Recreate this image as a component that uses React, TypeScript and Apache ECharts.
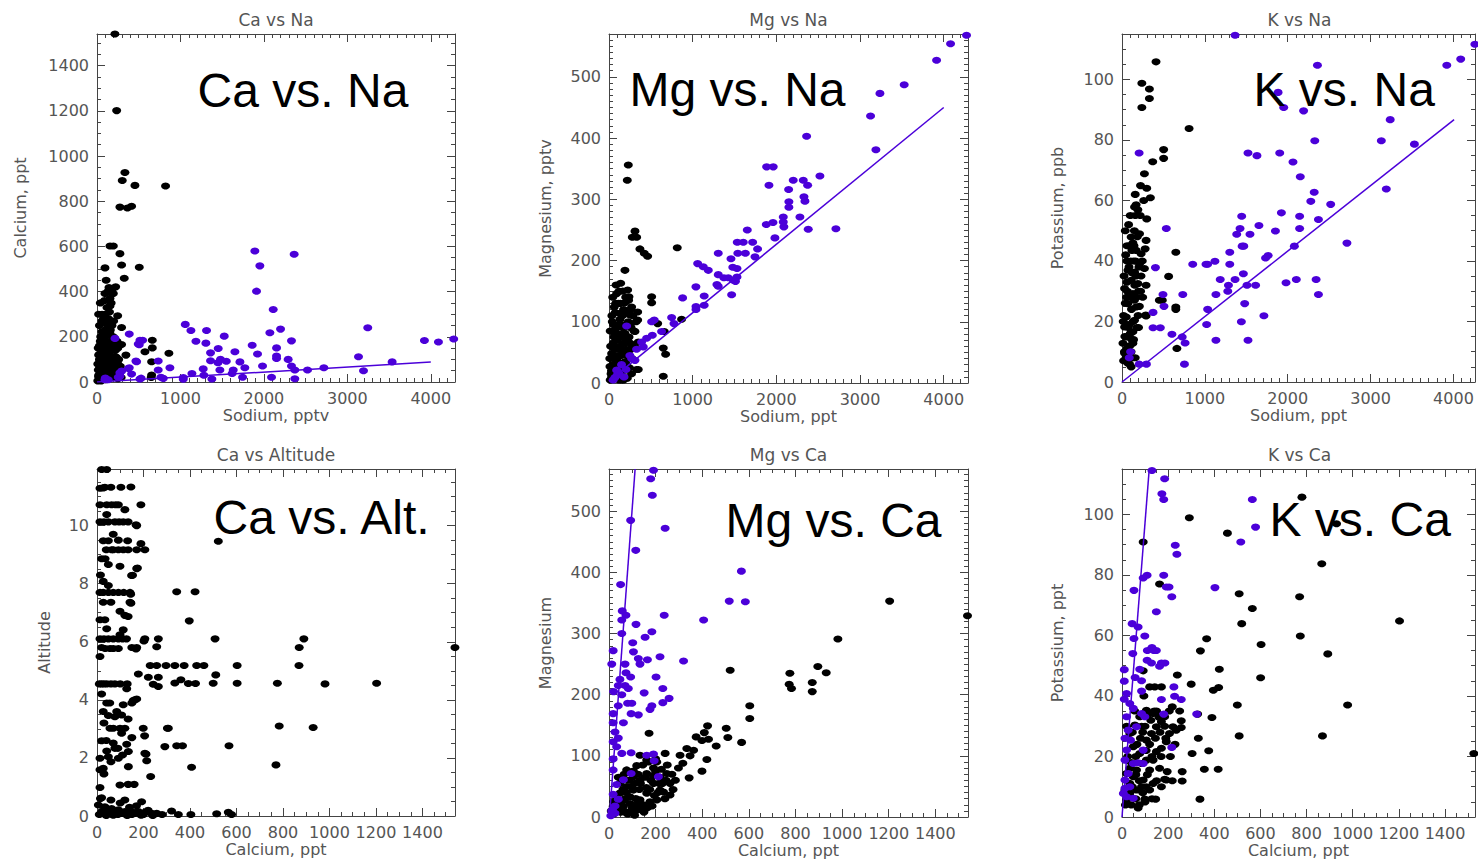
import React, { useEffect, useRef } from "react";
import * as echarts from "echarts";

// ---------- DATA ----------
// Panel 1: Ca vs Na  [Sodium pptv, Calcium ppt]
const naCaBlack: number[][] = [[215,1540],[236,1201],[335,927],[303,892],[455,870],[822,867],[275,774],[365,770],[415,778],[156,602],[196,602],[275,568],[295,518],[96,505],[507,508],[327,459],[144,418],[224,421],[96,392],[196,392],[156,370],[156,336],[150,310],[248,293],[72,262],[150,262],[295,241],[60,222],[156,215],[196,200],[60,185],[150,178],[295,166],[663,185],[575,134],[663,151],[862,127],[347,119],[56,141],[116,127],[36,97],[135,90],[216,90],[76,68],[16,53],[156,53],[255,45],[655,90],[655,31],[20,23],[76,16],[650,20],[30,250],[45,200],[100,230],[120,170],[80,150],[20,120],[60,110],[100,100],[140,120],[180,140],[200,60],[40,70],[90,40],[130,30],[170,20],[10,80],[60,30],[110,10],[150,70],[230,110],[250,80],[30,160],[190,100],[270,30],[10,5],[50,5],[100,200],[130,240],[80,280],[120,330],[60,300],[180,250],[110,450],[250,150],[230,25],[200,170],[40,40],[15,150],[90,180],[20,30],[50,60],[80,90],[110,60],[140,40],[170,80],[200,110],[230,60],[260,100],[290,20],[30,100],[70,130],[110,150],[150,160],[190,190],[220,140],[40,180],[80,210],[120,260],[160,230],[200,270],[60,270],[20,300],[100,300],[140,280],[170,350],[90,360],[130,400],[180,410],[40,350],[120,90],[160,110],[210,40],[250,15],[280,70],[70,10],[30,60],[190,30],[240,180],[100,130]];
const naCaPurple: number[][] = [[1892,580],[1952,514],[1912,402],[2363,565],[2112,321],[3245,240],[3924,184],[4092,177],[4275,190],[3134,112],[3537,89],[3194,50],[2719,63],[2523,53],[2371,53],[2371,14],[2331,71],[2291,100],[2331,182],[2200,234],[2072,218],[2152,151],[2152,115],[2152,104],[1984,71],[2092,21],[1860,163],[1924,124],[1772,63],[1713,89],[1653,134],[1633,53],[1620,38],[1745,21],[1525,203],[1480,100],[1450,85],[1550,92],[1453,148],[1473,53],[1361,129],[1361,94],[1305,172],[1313,228],[1273,58],[1281,30],[1377,13],[1186,180],[1126,228],[1058,255],[1138,38],[1034,20],[1034,12],[874,63],[766,21],[734,93],[734,53],[529,17],[467,93],[507,165],[547,185],[387,212],[216,193],[387,63],[415,35],[295,48],[255,21],[100,18],[96,10],[495,168],[515,185],[475,90],[375,60],[515,13],[275,41],[275,25],[135,10],[794,16]];
const naCaFit: number[][] = [[0,0],[4000,88]];

// Panel 2: Mg vs Na  [Sodium ppt, Magnesium pptv]
const naMgBlack: number[][] = [[231,356],[219,331],[311,248],[279,238],[331,238],[370,219],[422,212],[462,207],[816,221],[191,184],[140,163],[223,152],[92,146],[239,141],[111,130],[191,131],[271,124],[63,124],[510,141],[510,131],[343,116],[251,111],[131,114],[183,119],[131,104],[343,103],[582,97],[868,104],[661,84],[649,57],[677,47],[649,11],[350,22],[72,81],[191,81],[311,84],[350,67],[51,65],[171,65],[32,48],[152,54],[251,54],[92,38],[12,27],[131,32],[191,21],[32,10],[152,5],[331,22],[20,60],[60,40],[100,70],[140,95],[180,50],[210,30],[240,75],[270,15],[40,100],[80,130],[120,150],[160,110],[200,140],[30,20],[110,45],[150,10],[190,65],[230,100],[260,120],[300,85],[90,90],[10,40],[60,75],[130,60],[170,90],[220,8],[280,60],[120,5],[25,15],[45,30],[65,55],[85,20],[105,35],[125,80],[145,45],[165,25],[185,95],[205,55],[225,70],[245,25],[265,90],[285,110],[305,60],[15,85],[35,110],[55,95],[75,115],[95,55],[115,95],[135,130],[155,75],[175,120],[195,35],[215,115],[235,135],[255,95],[275,40],[325,100],[45,140],[85,160],[165,150],[15,5],[55,15],[95,25],[135,15],[175,5],[215,45],[255,65]];
const naMgPurple: number[][] = [[4273,568],[4082,554],[3915,527],[3528,487],[3238,473],[3126,436],[3190,381],[2362,403],[1884,353],[1963,353],[1912,323],[2202,331],[2322,331],[2374,323],[2521,338],[2147,316],[2330,304],[2342,297],[2150,296],[2150,287],[2712,252],[2381,251],[2282,271],[2083,271],[2090,255],[2083,263],[1983,237],[1880,259],[1960,262],[1653,250],[1717,230],[1776,219],[1745,206],[1605,230],[1533,230],[1540,212],[1630,212],[1306,212],[1458,203],[1480,189],[1530,187],[1060,195],[1127,190],[1187,184],[1306,177],[1373,172],[1426,172],[1486,168],[1530,173],[1512,166],[1290,161],[1306,158],[1039,157],[1138,142],[1466,144],[880,139],[1040,125],[1040,120],[1138,127],[749,107],[777,97],[541,103],[510,100],[518,78],[450,73],[390,67],[410,59],[629,84],[271,40],[311,37],[211,93],[203,22],[92,21],[100,13],[72,9],[50,5],[120,15],[150,30],[180,10],[250,45],[330,55]];
const naMgFit: number[][] = [[0,3],[4000,450]];

// Panel 3: K vs Na  [Sodium ppt, Potassium ppb]
const naKBlack: number[][] = [[411,105.8],[240,98.7],[331,96.8],[331,93.7],[240,90.7],[810,83.8],[503,76.8],[503,73.9],[371,72.8],[271,68.8],[224,64.9],[299,64.0],[343,60.9],[263,60.0],[171,58.6],[152,57.8],[192,56.9],[160,55.0],[299,53.9],[212,49.0],[111,47.9],[132,45.9],[291,46.8],[120,43.5],[231,42.4],[171,43.5],[650,42.9],[212,39.1],[72,36.9],[152,36.3],[271,37.5],[111,33.6],[192,32.5],[32,30.9],[291,32.0],[132,29.2],[563,34.9],[451,27.0],[650,24.8],[650,24.0],[291,21.8],[72,25.9],[171,24.8],[52,21.5],[152,20.4],[32,18.2],[132,16.6],[72,14.9],[12,12.8],[132,12.8],[32,9.5],[72,6.2],[111,5.0],[663,11.1],[487,27.0],[287,22.1],[100,28],[60,33],[150,27],[90,19],[50,15],[110,10],[20,7],[140,40],[60,40],[200,30],[180,18],[40,26],[90,45],[150,50],[230,35],[20,22],[100,16],[60,11],[130,8],[170,35],[80,52],[210,25],[15,20],[35,15],[55,28],[75,18],[95,12],[115,24],[135,20],[155,32],[175,28],[195,22],[25,35],[45,42],[65,30],[85,38],[105,40],[125,36],[145,45],[165,40],[185,48],[205,38],[225,30],[245,40],[30,10],[50,8],[90,6],[120,14],[160,8],[40,50],[100,55],[160,62],[220,55],[60,45],[140,14],[200,18],[250,28],[280,44]];
const naKPurple: number[][] = [[1365,114.6],[2359,104.7],[4259,111.6],[3920,104.7],[4088,106.7],[1884,95.7],[1952,90.7],[2192,89.6],[3237,86.7],[3130,79.7],[3529,78.6],[2327,79.7],[207,75.7],[1521,75.7],[1629,74.8],[1904,75.7],[2064,72.7],[2152,67.8],[2320,62.7],[3190,63.8],[2279,59.7],[2519,58.7],[2371,53.7],[1924,55.9],[2144,54.8],[2144,50.7],[1653,51.7],[1445,54.8],[1425,50.7],[1385,48.8],[1545,48.8],[1852,49.9],[535,50.7],[2715,45.9],[2080,44.9],[1450,44.9],[1470,44.9],[1301,42.9],[1764,41.8],[1733,41.0],[1122,39.9],[1034,38.9],[1014,38.9],[854,38.9],[1301,38.9],[404,37.8],[1365,33.9],[1186,33.9],[1465,35.8],[1980,32.8],[2104,33.9],[2343,33.9],[2371,28.9],[1285,32.0],[1509,32.0],[1613,32.0],[1277,30.0],[1134,28.9],[734,28.9],[495,28.9],[1481,25.9],[1034,24.0],[507,25.0],[375,23.0],[1713,21.9],[1441,19.9],[1022,19.0],[375,17.9],[463,17.9],[603,15.8],[727,14.9],[762,12.9],[1134,13.8],[1521,13.8],[754,5.9],[207,5.9],[295,5.9],[104,10.0],[88,8.0]];
const naKFit: number[][] = [[0,0],[4008,86.7]];

// Panel 4: Ca vs Altitude  [Calcium ppt, Altitude]
const caAltBlack: number[][] = [[522,9.46],[343,7.72],[422,7.72],[397,6.72],[508,6.10],[890,6.10],[870,5.80],[1540,5.80],[869,5.18],[603,5.18],[257,5.18],[297,5.18],[335,5.18],[375,5.18],[429,5.18],[460,5.18],[511,4.86],[178,4.89],[221,4.78],[264,4.78],[242,4.54],[264,4.46],[335,4.58],[361,4.69],[393,4.56],[424,4.56],[500,4.57],[603,4.57],[776,4.57],[981,4.55],[1203,4.57],[784,3.10],[930,3.05],[307,3.02],[199,3.02],[205,2.76],[292,2.39],[343,2.42],[368,2.42],[568,2.42],[211,2.13],[214,1.90],[407,1.68],[770,1.76],[231,1.36],[321,0.17],[404,0.05],[515,0.08],[565,0.13],[579,0.05],[192,0.49],[202,6.03],[264,6.10],[257,5.83],[168,5.75],[189,10.72],[146,11.33],[168,10.03],[174,8.54],[153,8.29],[145,7.64],[146,7.33],[120,6.91],[171,4.03],[156,3.98],[128,4.38],[20,11.93],[42,11.93],[13,11.29],[34,11.32],[103,11.32],[13,10.72],[42,10.72],[63,10.72],[92,10.72],[120,10.55],[42,10.38],[13,10.13],[49,10.13],[77,10.13],[113,10.13],[134,10.13],[171,10.0],[70,9.7],[92,9.5],[49,9.48],[132,9.48],[189,9.38],[63,9.17],[92,9.17],[113,9.17],[134,9.17],[171,9.17],[206,9.17],[20,8.86],[49,8.66],[99,8.60],[171,8.52],[149,8.28],[27,8.08],[49,7.94],[13,7.70],[49,7.70],[92,7.70],[142,7.70],[142,7.36],[27,7.36],[99,7.05],[134,6.87],[34,6.76],[42,6.45],[113,6.41],[99,6.24],[13,6.1],[49,6.1],[92,6.1],[127,6.1],[206,6.1],[20,5.8],[56,5.77],[92,5.77],[171,5.8],[13,5.49],[229,5.18],[20,4.55],[42,4.55],[77,4.55],[20,4.2],[163,4.0],[42,3.89],[113,3.83],[27,3.6],[49,3.46],[77,3.42],[106,3.48],[134,3.34],[56,3.02],[99,3.02],[106,2.85],[303,3.02],[20,2.59],[70,2.51],[128,2.47],[42,2.24],[77,2.33],[135,2.22],[13,1.99],[49,2.04],[92,1.99],[206,2.16],[135,1.70],[13,1.59],[27,1.64],[99,1.07],[134,1.09],[13,0.98],[20,0.63],[120,0.55],[6,0.38],[34,0.32],[63,0.26],[92,0.21],[120,0.15],[149,0.15],[178,0.15],[206,0.13],[235,0.09],[257,0.09],[20,0.15],[49,0.09],[77,0.09],[106,0.09],[163,0.09],[10,0.05],[40,0.02],[70,0.03],[130,0.02],[190,0.03],[240,0.02],[27,11.3],[60,11.32],[80,10.72],[30,10.13],[95,10.13],[27,9.48],[70,9.17],[40,9.17],[35,8.86],[15,8.3],[70,7.70],[27,7.70],[115,7.70],[60,7.36],[13,6.76],[70,6.1],[30,6.1],[110,6.1],[35,5.77],[70,5.77],[150,5.8],[30,4.55],[60,4.55],[100,4.55],[130,4.55],[10,4.55],[55,3.89],[85,3.6],[150,3.89],[30,3.2],[70,3.02],[120,3.02],[150,2.7],[40,2.6],[90,2.33],[110,2.1],[60,1.87],[30,1.45],[160,1.09],[60,0.55],[100,0.45],[140,0.3],[170,0.35],[220,0.2],[30,0.2],[15,0.6],[90,0.05],[150,0.05],[280,0.05],[200,0.05],[350,0.05]];

// Panel 5: Mg vs Ca  [Calcium ppt, Magnesium]
const caMgBlack: number[][] = [[1538,329],[1204,353],[982,291],[896,246],[932,236],[872,220],[872,205],[776,235],[773,217],[783,210],[604,182],[604,161],[520,240],[503,145],[510,130],[569,122],[423,149],[409,138],[374,131],[399,125],[427,127],[460,116],[334,112],[363,109],[305,101],[348,100],[420,94],[399,75],[344,64],[317,88],[298,80],[172,137],[241,104],[205,90],[191,80],[133,101],[119,84],[162,93],[76,77],[105,66],[133,60],[162,71],[191,55],[219,44],[248,71],[262,55],[262,36],[234,41],[205,28],[162,39],[133,28],[105,44],[76,50],[47,39],[33,28],[62,17],[90,22],[119,11],[148,20],[176,25],[47,55],[90,33],[18,17],[20,5],[50,8],[80,5],[110,3],[150,8],[40,20],[70,30],[100,15],[130,45],[180,60],[220,65],[230,55],[200,75],[10,10],[30,15],[55,25],[75,40],[95,50],[115,30],[135,55],[155,65],[175,45],[195,35],[215,55],[245,60],[270,70],[285,60],[30,35],[60,45],[85,60],[105,75],[125,70],[145,85],[170,90],[200,95],[225,78],[250,85],[20,25],[45,12],[70,8],[95,10],[120,20],[140,12],[165,15],[185,18],[210,40],[240,30],[275,45],[40,65],[65,70],[110,55],[160,48],[190,68]];
const caMgPurple: number[][] = [[191,567],[179,553],[186,526],[93,485],[241,472],[115,436],[568,402],[50,380],[516,353],[585,352],[57,337],[73,330],[55,322],[237,330],[406,322],[116,315],[55,300],[184,303],[155,294],[102,285],[105,270],[18,272],[12,250],[126,259],[165,257],[133,250],[219,262],[320,255],[69,250],[73,236],[93,229],[202,229],[47,225],[69,215],[83,210],[20,205],[55,200],[40,215],[151,203],[231,210],[258,194],[231,187],[184,182],[176,176],[80,186],[98,186],[40,182],[95,169],[126,167],[18,169],[18,154],[62,154],[26,139],[40,129],[18,123],[33,115],[55,104],[95,105],[162,101],[191,103],[194,92],[18,95],[18,77],[95,71],[212,66],[33,53],[62,61],[18,37],[40,29],[26,18],[12,10],[26,6],[8,2],[15,12]];
const caMgFit: number[][] = [[2,0],[112,569]];

// Panel 6: K vs Ca  [Calcium ppt, Potassium ppt]
const caKBlack: number[][] = [[780,105.7],[292,98.9],[457,93.8],[92,90.9],[930,96.9],[866,83.7],[508,73.8],[770,72.8],[565,68.9],[1203,64.8],[519,63.9],[773,59.8],[367,58.9],[603,57.0],[892,53.9],[340,54.9],[422,48.8],[601,46.0],[171,43.0],[142,43.0],[120,43.0],[240,46.9],[300,43.9],[396,41.9],[419,42.8],[163,77],[92,48.3],[500,37.0],[978,37.0],[218,36.4],[390,32.9],[328,34.0],[508,26.8],[869,26.8],[331,26.0],[376,21.9],[304,21.0],[1525,21.0],[357,15.8],[417,15.8],[261,15.0],[261,11.9],[218,12],[185,12.5],[196,15],[338,5.9],[146,5.9],[99,5.9],[257,31.8],[257,29.6],[221,29.8],[235,28.7],[206,27.6],[192,24.9],[171,22.7],[149,21.6],[135,18.8],[163,16.1],[120,15.5],[92,12.2],[63,8.9],[34,7.8],[20,5.6],[49,13.3],[85,17.7],[106,25.4],[128,27.6],[149,29.8],[171,31.5],[185,33.1],[135,34.2],[106,35.3],[77,33.1],[56,30.4],[34,27.6],[49,23.2],[77,21.0],[106,18.8],[34,16.1],[20,14.4],[63,15.5],[85,10.0],[120,8.9],[135,11.1],[171,10.0],[192,12.2],[34,11.1],[13,8.9],[60,20],[90,28],[100,5],[70,3],[15,4],[30,8],[45,10],[60,6],[75,12],[90,8],[110,14],[130,6],[150,12],[170,20],[190,26],[210,20],[230,24],[250,35],[25,20],[45,28],[65,24],[85,30],[105,22],[125,32],[145,26],[165,28],[185,30],[205,35],[20,30],[40,18],[60,14],[80,26],[100,30],[120,24],[140,35],[160,33],[55,35],[95,40],[115,34],[75,4],[105,10],[40,4],[130,20],[150,35]];
const caKPurple: number[][] = [[130,114.5],[185,111.8],[173,106.8],[181,104.9],[565,104.9],[579,95.8],[515,90.9],[231,89.8],[238,86.8],[92,79.0],[109,79.9],[181,79.9],[192,76.0],[204,76.0],[216,72.8],[403,75.8],[52,74.9],[149,67.8],[44,63.9],[70,62.8],[52,59.0],[99,59.8],[47,54],[130,56],[110,55],[138,55],[149,55],[109,51.8],[128,50.9],[171,50.9],[163,49.8],[186,50.9],[10,48.7],[77,48.8],[57,46.1],[85,45.0],[10,44.9],[20,40.8],[10,38.9],[85,41.6],[225,43.0],[171,38.8],[228,39.9],[257,38.8],[324,34],[181,34.0],[34,37.5],[49,35.9],[85,34.2],[99,33.1],[20,33.1],[63,29.8],[27,28.7],[13,26.0],[37,25.4],[92,22.1],[20,22.1],[13,18.8],[49,17.7],[70,17.9],[92,17.7],[27,14.4],[13,12.2],[34,10.0],[13,9.5],[49,6.2],[20,6.7],[6,7.8],[216,23.0]];
const caKFit: number[][] = [[0,0],[118,115]];

const plotTitles = ["Ca vs Na", "Mg vs Na", "K vs Na", "Ca vs Altitude", "Mg vs Ca", "K vs Ca"];
const bigLabels = ["Ca vs. Na", "Mg vs. Na", "K vs. Na", "Ca vs. Alt.", "Mg vs. Ca", "K vs. Ca"];
const xNames = ["Sodium, pptv", "Sodium, ppt", "Sodium, ppt", "Calcium, ppt", "Calcium, ppt", "Calcium, ppt"];
const yNames = ["Calcium, ppt", "Magnesium, pptv", "Potassium, ppb", "Altitude", "Magnesium", "Potassium, ppt"];

// ---------- LAYOUT / STYLE ----------
const PURPLE = "#4b00d9";
const AXIS_COLOR = "#444";
const LABEL_COLOR = "#555";
const LABEL_FONT = "DejaVu Sans";
const DOT: number[] = [9, 7];

const panels = [
  { grid: { left: 97, top: 34, width: 358, height: 348 }, xMax: 4290, xInt: 1000, xMinor: 10, yMax: 1540, yInt: 200, yMinor: 4, yGap: 69, black: naCaBlack, purple: naCaPurple, fit: naCaFit, label: [197.6, 90] },
  { grid: { left: 609, top: 34, width: 359, height: 349 }, xMax: 4290, xInt: 1000, xMinor: 10, yMax: 570, yInt: 100, yMinor: 10, yGap: 56, black: naMgBlack, purple: naMgPurple, fit: naMgFit, label: [629.5, 89] },
  { grid: { left: 1122, top: 34, width: 355, height: 348 }, xMax: 4260, xInt: 1000, xMinor: 10, yMax: 115, yInt: 20, yMinor: 4, yGap: 57, black: naKBlack, purple: naKPurple, fit: naKFit, label: [1253.5, 89] },
  { grid: { left: 97, top: 469, width: 358, height: 347 }, xMax: 1540, xInt: 200, xMinor: 4, yMax: 11.95, yInt: 2, yMinor: 4, yGap: 45, black: caAltBlack, purple: null, fit: null, label: [213.6, 517] },
  { grid: { left: 609, top: 469, width: 359, height: 348 }, xMax: 1540, xInt: 200, xMinor: 4, yMax: 569, yInt: 100, yMinor: 10, yGap: 56, black: caMgBlack, purple: caMgPurple, fit: caMgFit, label: [725.5, 520] },
  { grid: { left: 1122, top: 469, width: 355, height: 348 }, xMax: 1530, xInt: 200, xMinor: 4, yMax: 115, yInt: 20, yMinor: 4, yGap: 57, black: caKBlack, purple: caKPurple, fit: caKFit, label: [1269.5, 519] },
];

function fmt(interval: number) {
  return (v: number) => {
    const r = v / interval;
    return Math.abs(r - Math.round(r)) < 1e-6 ? String(Math.round(v * 1000) / 1000) : "";
  };
}

function makeAxis(gi: number, max: number, interval: number, minor: number, position: string, withLabels: boolean, name?: string, nameGap?: number) {
  const ax: any = {
    gridIndex: gi,
    type: "value",
    min: 0,
    max,
    interval,
    position,
    axisLine: { show: true, onZero: false, lineStyle: { color: AXIS_COLOR, width: 1 } },
    axisTick: { show: true, inside: true, length: 8, lineStyle: { color: AXIS_COLOR, width: 1 } },
    minorTick: { show: true, splitNumber: minor, length: 4, lineStyle: { color: AXIS_COLOR, width: 1 } },
    splitLine: { show: false },
    minorSplitLine: { show: false },
    axisLabel: withLabels
      ? { show: true, formatter: fmt(interval), color: LABEL_COLOR, fontSize: 16, fontFamily: LABEL_FONT, margin: 8 }
      : { show: false },
  };
  if (name) {
    ax.name = name;
    ax.nameLocation = "middle";
    ax.nameGap = nameGap;
    ax.nameTextStyle = { color: LABEL_COLOR, fontSize: 16, fontFamily: LABEL_FONT };
  }
  return ax;
}

export default function App() {
  const ref = useRef<HTMLDivElement>(null);
  useEffect(() => {
    if (!ref.current) return;
    const chart = echarts.init(ref.current, undefined, { renderer: "svg" });
    const grids: any[] = [];
    const xAxes: any[] = [];
    const yAxes: any[] = [];
    const series: any[] = [];
    const graphics: any[] = [];
    panels.forEach((p, i) => {
      grids.push({ ...p.grid, containLabel: false });
      xAxes.push(makeAxis(i, p.xMax, p.xInt, p.xMinor, "bottom", true, xNames[i], 25));
      xAxes.push(makeAxis(i, p.xMax, p.xInt, p.xMinor, "top", false));
      yAxes.push(makeAxis(i, p.yMax, p.yInt, p.yMinor, "left", true, yNames[i], p.yGap));
      yAxes.push(makeAxis(i, p.yMax, p.yInt, p.yMinor, "right", false));
      series.push({
        type: "scatter", xAxisIndex: 2 * i, yAxisIndex: 2 * i, data: p.black,
        symbol: "circle", symbolSize: DOT, itemStyle: { color: "#000", opacity: 1 }, silent: true,
      });
      if (p.purple) {
        series.push({
          type: "scatter", xAxisIndex: 2 * i, yAxisIndex: 2 * i, data: p.purple,
          symbol: "circle", symbolSize: DOT, itemStyle: { color: PURPLE, opacity: 1 }, silent: true,
        });
      }
      if (p.fit) {
        series.push({
          type: "line", xAxisIndex: 2 * i, yAxisIndex: 2 * i, data: p.fit,
          showSymbol: false, symbol: "none", lineStyle: { color: PURPLE, width: 1.5 }, silent: true,
        });
      }
      const cx = p.grid.left + p.grid.width / 2;
      graphics.push({
        type: "text", x: cx, y: p.grid.top - 14,
        style: { text: plotTitles[i], fill: LABEL_COLOR, font: `17px '${LABEL_FONT}'`, align: "center", verticalAlign: "middle" },
      });
      graphics.push({
        type: "text", x: p.label[0], y: p.label[1], z: 100,
        style: { text: bigLabels[i], fill: "#000", font: "48px 'Liberation Sans', Arial, sans-serif", align: "left", verticalAlign: "middle" },
      });
    });
    chart.setOption({
      animation: false,
      backgroundColor: "#fff",
      grid: grids,
      xAxis: xAxes,
      yAxis: yAxes,
      series,
      graphic: graphics,
    });
    return () => chart.dispose();
  }, []);
  return <div ref={ref} style={{ position: "absolute", left: 0, top: 0, width: 1478, height: 860 }} />;
}
